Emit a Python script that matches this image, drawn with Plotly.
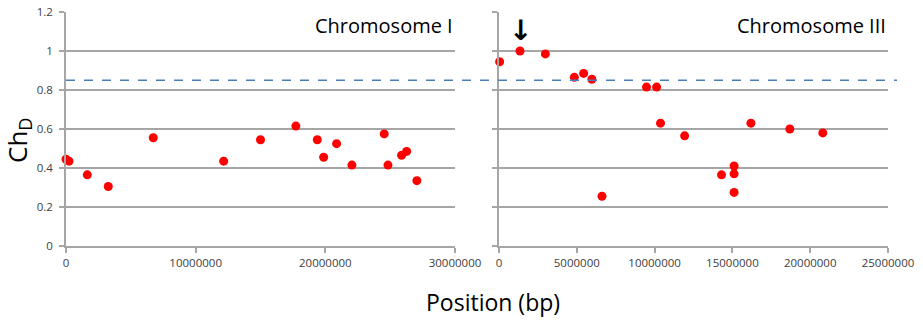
import plotly.graph_objects as go

chrI_pos = [0.0e6, 0.23e6, 1.64e6, 3.26e6, 6.73e6, 12.16e6, 15.0e6, 17.73e6, 19.38e6,
            19.87e6, 20.87e6, 22.05e6, 24.54e6, 24.83e6, 25.88e6, 26.27e6, 27.06e6]
chrI_chd = [0.445, 0.435, 0.365, 0.305, 0.555, 0.435, 0.545, 0.615, 0.545,
            0.455, 0.525, 0.415, 0.575, 0.415, 0.465, 0.485, 0.335]

chrIII_pos = [0.04e6, 1.35e6, 2.98e6, 4.84e6, 5.44e6, 5.97e6, 6.62e6, 9.48e6, 10.13e6,
              10.38e6, 11.93e6, 14.30e6, 15.11e6, 15.11e6, 15.11e6, 16.19e6, 18.69e6, 20.81e6]
chrIII_chd = [0.945, 1.0, 0.985, 0.865, 0.885, 0.855, 0.255, 0.815, 0.815,
              0.63, 0.565, 0.365, 0.41, 0.37, 0.275, 0.63, 0.6, 0.58]

threshold = 0.85
arrow_pos = 1.35e6

xI_ticks = [0, 10000000, 20000000, 30000000]
xIII_ticks = [0, 5000000, 10000000, 15000000, 20000000, 25000000]
y_ticks = [0, 0.2, 0.4, 0.6, 0.8, 1, 1.2]

W, H = 923, 320
T, B = 12, 74
PH = H - T - B  # plot area height in px


def py(pix):
    """paper y from pixel y"""
    return (H - B - pix) / PH


grid = "#a6a6a6"
tickfont = dict(family="Open Sans", size=11.5, color="#404040")

fig = go.Figure()
mk = dict(color="#ff0000", size=9)
fig.add_trace(go.Scatter(x=chrI_pos, y=chrI_chd, mode="markers", marker=mk,
                         xaxis="x", yaxis="y", cliponaxis=False, showlegend=False))
fig.add_trace(go.Scatter(x=chrIII_pos, y=chrIII_chd, mode="markers", marker=mk,
                         xaxis="x2", yaxis="y2", cliponaxis=False, showlegend=False))

xcommon = dict(showgrid=False, zeroline=False, showline=True, linecolor=grid, linewidth=1.5,
               ticks="outside", ticklen=5, tickcolor=grid, tickwidth=1.5,
               tickfont=tickfont, automargin=False)
ycommon = dict(range=[0, 1.2], tickvals=y_ticks, showgrid=True, gridcolor=grid, gridwidth=1.5,
               zeroline=False, showline=True, linecolor=grid, linewidth=1.5,
               ticks="outside", ticklen=5, tickcolor=grid, tickwidth=1.5, tickfont=tickfont,
               automargin=False)

fig.update_layout(
    width=W, height=H,
    margin=dict(l=0, r=0, t=T, b=B, autoexpand=False),
    plot_bgcolor="white", paper_bgcolor="white",
    xaxis=dict(domain=[66 / W, 455 / W], range=[0, 30e6], tickvals=xI_ticks,
               ticktext=[str(v) for v in xI_ticks], anchor="y", **xcommon),
    xaxis2=dict(domain=[499 / W, 888 / W], range=[0, 25e6], tickvals=xIII_ticks,
                ticktext=[str(v) for v in xIII_ticks], anchor="y2", **xcommon),
    yaxis=dict(anchor="x", ticklabelstandoff=4, **ycommon),
    yaxis2=dict(anchor="x2", matches="y", showticklabels=False, **ycommon),
)

fig.add_shape(type="line", xref="paper", yref="y", x0=66 / W, x1=897 / W,
              y0=threshold, y1=threshold, line=dict(color="#4a7ebb", width=1.5, dash="dash"))

fig.add_annotation(text="Chromosome I", xref="x", yref="y", x=30e6, y=1.13,
                   xanchor="right", yanchor="middle", showarrow=False,
                   font=dict(family="Open Sans", size=20, color="black"))
fig.add_annotation(text="Chromosome III", xref="x2", yref="y2", x=25e6, y=1.13,
                   xanchor="right", yanchor="middle", showarrow=False,
                   font=dict(family="Open Sans", size=20, color="black"))
fig.add_annotation(text="<b>↓</b>", xref="x2", yref="y2", x=arrow_pos, y=1.105,
                   xanchor="center", yanchor="middle", showarrow=False,
                   font=dict(family="DejaVu Sans", size=28, color="black"))

fig.add_annotation(text="Ch<sub>D</sub>", xref="paper", yref="paper", x=18 / W, y=py(140),
                   xanchor="center", yanchor="middle", textangle=-90, showarrow=False,
                   font=dict(family="Open Sans", size=26, color="black"))
fig.add_annotation(text="Position (bp)", xref="paper", yref="paper", x=493 / W, y=py(302),
                   xanchor="center", yanchor="middle", showarrow=False,
                   font=dict(family="Open Sans", size=23, color="black"))

fig.write_html("out.html", post_script="document.body.style.margin='0px';",
               config={"displayModeBar": False})
